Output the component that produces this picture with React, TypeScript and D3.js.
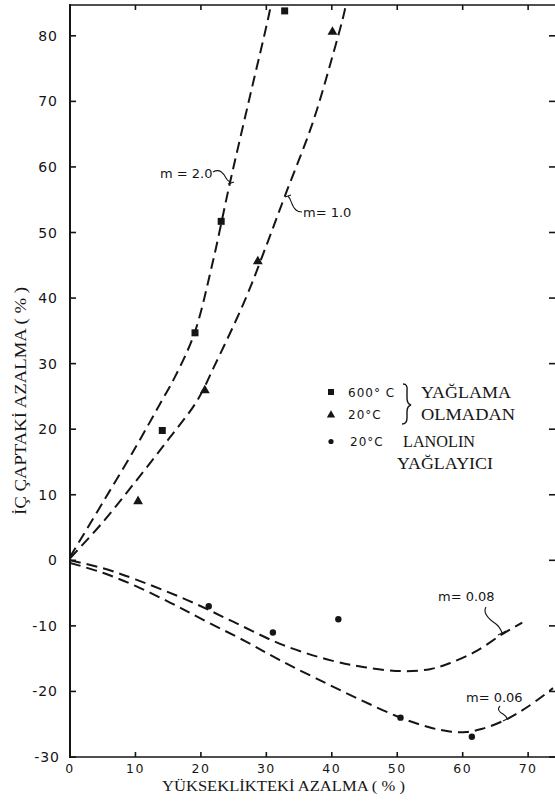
import React from "react";
import * as d3 from "d3";

const xTicks = [0, 10, 20, 30, 40, 50, 60, 70];
const yTicks = [-30, -20, -10, 0, 10, 20, 30, 40, 50, 60, 70, 80];

const squares600: [number, number][] = [[14.1, 19.8], [19.1, 34.7], [23.1, 51.7], [32.8, 83.8]];
const triangles20: [number, number][] = [[10.4, 9], [20.6, 25.9], [28.7, 45.6], [40.1, 80.6]];
const circlesLanolin: [number, number][] = [[21.2, -7], [31, -11], [41, -9], [50.5, -24], [61.4, -26.9]];

const curveM20: [number, number][] = [[0, 0.5], [5, 8.8], [10, 17.2], [14, 24.3], [16, 27.9], [19, 34.6], [21.7, 45], [24.4, 57.4], [27.5, 70.8], [30.5, 83.7], [30.9, 86]];
const curveM10: [number, number][] = [[0, 0.3], [5, 5.8], [10, 12], [15, 18.4], [19.4, 24.3], [22, 29.5], [26.7, 39.6], [30, 48], [33, 56], [37, 66.5], [40, 76.5], [42, 84], [42.3, 86]];
const curveM008: [number, number][] = [[0, 0], [5, -1.2], [10, -2.9], [18, -6.1], [25, -9.4], [32.5, -12.9], [40, -15.3], [45, -16.3], [50.5, -16.9], [55, -16.6], [58, -15.7], [62, -13.9], [66, -11.3], [69.1, -9.5]];
const curveM006: [number, number][] = [[0, -0.4], [5, -1.9], [10, -3.9], [15.2, -6.4], [20, -8.9], [26.9, -12.4], [32, -15.2], [37.6, -18], [44, -21.1], [50.5, -24], [55, -25.5], [58, -26.1], [60.5, -26.2], [63, -25.7], [66.6, -24.3], [70, -22.3], [73.8, -19.5]];

const curveLabels = ["m = 2.0", "m= 1.0", "m= 0.08", "m= 0.06"];
const legendTemps = ["600° C", "20°C", "20°C"];
const legendTexts = ["YAĞLAMA", "OLMADAN", "LANOLIN", "YAĞLAYICI"];
const xTitle = "YÜKSEKLİKTEKİ AZALMA ( % )";
const yTitle = "İÇ ÇAPTAKİ AZALMA ( % )";

const L = 70, R = 553, T = 5, B = 757;
const ink = "#151515";
const sans = "'DejaVu Sans', sans-serif";
const serif = "'Liberation Serif', 'Times New Roman', serif";

export default function App() {
  const x = d3.scaleLinear().domain([0, 73.8]).range([L, R]);
  const y = d3.scaleLinear().domain([-30, 84.7]).range([B, T]);
  const line = d3.line<[number, number]>()
    .x(d => x(d[0]))
    .y(d => y(d[1]))
    .curve(d3.curveCatmullRom.alpha(0.5));
  const curves = [curveM20, curveM10, curveM008, curveM006];
  const tri = d3.symbol().type(d3.symbolTriangle).size(42)();
  return (
    <svg width={555} height={809} style={{ position: "absolute", left: 0, top: 0, background: "#fff" }}>
      <defs>
        <clipPath id="plot">
          <rect x={L} y={T} width={R - L + 2} height={B - T} />
        </clipPath>
      </defs>
      {/* frame */}
      <line x1={L} y1={T - 1} x2={L} y2={B + 1} stroke={ink} strokeWidth={2} />
      <line x1={L - 1} y1={B} x2={R + 2} y2={B} stroke={ink} strokeWidth={1.6} />
      <line x1={L - 1} y1={T} x2={R + 2} y2={T} stroke={ink} strokeWidth={1.6} />
      {yTicks.map(t => (
        <g key={"yt" + t}>
          <line x1={L} x2={L + 6} y1={y(t)} y2={y(t)} stroke={ink} strokeWidth={1.6} />
          <line x1={R - 4} x2={R + 2} y1={y(t)} y2={y(t)} stroke={ink} strokeWidth={1.6} />
          <text x={t === -30 ? L - 10 : L - 12} y={y(t)} dy="0.36em" textAnchor="end" fontFamily={sans} fontSize={14} fill={ink} letterSpacing={1}>
            {t < 0 ? "-" + Math.abs(t) : t}
          </text>
        </g>
      ))}
      {xTicks.map(t => (
        <g key={"xt" + t}>
          {t > 0 && <line x1={x(t)} x2={x(t)} y1={B} y2={B - 5} stroke={ink} strokeWidth={1.6} />}
          {t > 0 && <line x1={x(t)} x2={x(t)} y1={T} y2={T + 5} stroke={ink} strokeWidth={1.6} />}
          <text x={x(t)} y={B + 16} textAnchor="middle" fontFamily={sans} fontSize={12.5} fill={ink} letterSpacing={1.5}>
            {t}
          </text>
        </g>
      ))}
      {/* axis titles */}
      <text x={162} y={791} textLength={243} lengthAdjust="spacingAndGlyphs" fontFamily={serif} fontSize={15} fill={ink}>
        {xTitle}
      </text>
      <text transform="translate(26,515) rotate(-90)" x={0} y={0} textLength={228} lengthAdjust="spacingAndGlyphs" fontFamily={serif} fontSize={17} fill={ink}>
        {yTitle}
      </text>
      {/* curves */}
      <g clipPath="url(#plot)">
        {curves.map((c, i) => (
          <path key={"c" + i} d={line(c) || ""} fill="none" stroke={ink} strokeWidth={2} strokeDasharray="11 6" />
        ))}
      </g>
      {/* points */}
      {squares600.map((p, i) => (
        <rect key={"s" + i} x={x(p[0]) - 3.5} y={y(p[1]) - 3.5} width={7} height={7} fill={ink} />
      ))}
      {triangles20.map((p, i) => (
        <path key={"t" + i} d={tri || ""} transform={`translate(${x(p[0])},${y(p[1])})`} fill={ink} />
      ))}
      {circlesLanolin.map((p, i) => (
        <circle key={"o" + i} cx={x(p[0])} cy={y(p[1])} r={3.2} fill={ink} />
      ))}
      {/* curve labels with leaders */}
      <text x={160} y={178} fontFamily={sans} fontSize={13} fill={ink}>{curveLabels[0]}</text>
      <path d="M213,172 C220,168 224,174 226,178 C228,182 230,181 231,183 M228,184 L234,182" fill="none" stroke={ink} strokeWidth={1.1} />
      <text x={303} y={217} fontFamily={sans} fontSize={13} fill={ink}>{curveLabels[1]}</text>
      <path d="M288,196 C292,200 291,206 296,210 C298,212 300,212 302,212 M285,197 L291,195" fill="none" stroke={ink} strokeWidth={1.1} />
      <text x={438} y={601} fontFamily={sans} fontSize={13} fill={ink}>{curveLabels[2]}</text>
      <path d="M486,607 C482,614 490,620 496,624 C500,627 501,630 502,633 M498,635 L506,631" fill="none" stroke={ink} strokeWidth={1.1} />
      <text x={466} y={702} fontFamily={sans} fontSize={13} fill={ink}>{curveLabels[3]}</text>
      <path d="M500,706 C497,709 499,712 503,714 C506,716 507,717 507,719 M503,721 L511,717" fill="none" stroke={ink} strokeWidth={1.1} />
      {/* legend */}
      <rect x={328} y={389} width={6} height={6} fill={ink} />
      <text x={348} y={397} fontFamily={sans} fontSize={12} fill={ink} letterSpacing={1}>{legendTemps[0]}</text>
      <path d={d3.symbol().type(d3.symbolTriangle).size(30)() || ""} transform="translate(331,415)" fill={ink} />
      <text x={348} y={419} fontFamily={sans} fontSize={12} fill={ink} letterSpacing={1}>{legendTemps[1]}</text>
      <circle cx={331} cy={441.5} r={2.6} fill={ink} />
      <text x={350} y={446} fontFamily={sans} fontSize={12} fill={ink} letterSpacing={1}>{legendTemps[2]}</text>
      <path d="M403,384 Q408,384 407,391 L407,398 Q407,404 411,405 Q407,406 407,412 L407,418 Q407,424 402,424" fill="none" stroke={ink} strokeWidth={1.4} />
      <text x={421} y={398} fontFamily={serif} fontSize={17} fill={ink} textLength={90} lengthAdjust="spacingAndGlyphs">{legendTexts[0]}</text>
      <text x={421} y={420} fontFamily={serif} fontSize={17} fill={ink} textLength={94} lengthAdjust="spacingAndGlyphs">{legendTexts[1]}</text>
      <text x={403} y={447} fontFamily={serif} fontSize={17} fill={ink} textLength={72} lengthAdjust="spacingAndGlyphs">{legendTexts[2]}</text>
      <text x={397} y={469} fontFamily={serif} fontSize={17} fill={ink} textLength={96} lengthAdjust="spacingAndGlyphs">{legendTexts[3]}</text>
    </svg>
  );
}
